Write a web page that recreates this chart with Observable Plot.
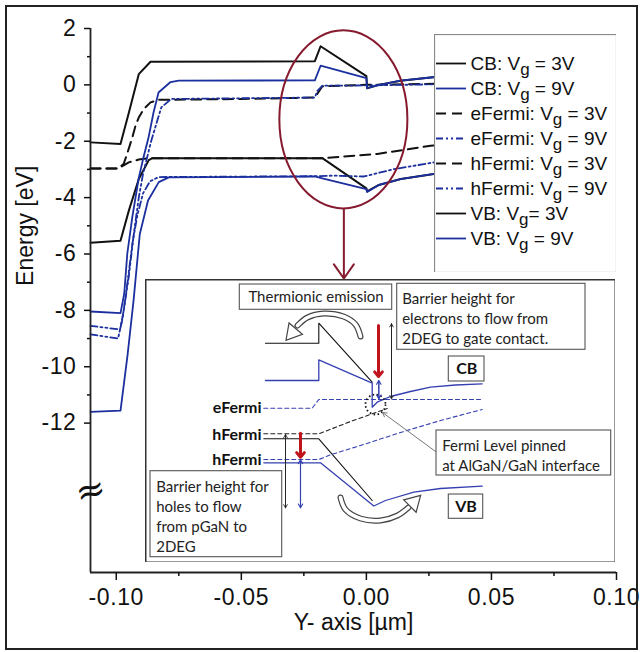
<!DOCTYPE html>
<html><head><meta charset="utf-8">
<script src="https://cdn.jsdelivr.net/npm/d3@7"></script>
<script src="https://cdn.jsdelivr.net/npm/@observablehq/plot@0.6"></script>
<style>
body{margin:0;background:#fff;}
#wrap{position:relative;width:643px;height:652px;overflow:hidden;background:#fff;}
#wrap svg{position:absolute;}
#border{position:absolute;left:5px;top:5px;width:629px;height:641px;border:2px solid #222;pointer-events:none;}
</style></head><body><div id="wrap"><div id="border"></div></div>
<script>
// ---------- DATA (x in µm, energy in eV) ----------
const legendLabels = ["CB: V_g = 3V","CB: V_g = 9V","eFermi: V_g = 3V","eFermi: V_g = 9V","hFermi: V_g = 3V","hFermi: V_g = 9V","VB: V_g= 3V","VB: V_g = 9V"];
const xMajorTicks = [-0.10,-0.05,0.00,0.05,0.10];
const xMinorTicks = [-0.075,-0.025,0.025,0.075];
const yMajorTicks = [2,0,-2,-4,-6,-8,-10,-12];
const yMinorTicks = [1,-1,-3,-5,-7,-9,-11];

const cb3V = [[-0.1103,-2.04],[-0.0983,-2.1],[-0.0950,-1.0],[-0.0910,0.38],[-0.0863,0.82],[-0.0206,0.84],[-0.0183,1.37],[0.0,0.31],[0.0003,-0.12],[0.005,0.0],[0.0137,0.15],[0.0275,0.28],[0.04,0.35]];
const cb9V = [[-0.1103,-8.04],[-0.0983,-8.1],[-0.0968,-7.4],[-0.0956,-6.0],[-0.0936,-4.7],[-0.0910,-3.3],[-0.0891,-2.57],[-0.0871,-1.87],[-0.0851,-0.98],[-0.0831,-0.27],[-0.0783,0.10],[-0.0750,0.15],[-0.0206,0.16],[-0.0183,0.68],[0.0,0.24],[0.0003,-0.12],[0.005,0.0],[0.0137,0.15],[0.0275,0.28],[0.04,0.35]];
const ef3V = [[-0.1103,-2.97],[-0.0993,-2.97],[-0.0970,-2.8],[-0.0955,-2.4],[-0.0936,-1.87],[-0.0923,-1.45],[-0.0910,-1.16],[-0.0890,-0.86],[-0.0863,-0.62],[-0.0830,-0.53],[-0.0500,-0.5],[-0.0206,-0.45],[-0.0176,-0.05],[0.0,0.0],[0.0275,0.04],[0.04,0.05]];
const ef9V = [[-0.1103,-8.55],[-0.0985,-8.68],[-0.0970,-8.0],[-0.0950,-6.8],[-0.0930,-5.3],[-0.0910,-4.0],[-0.0893,-3.16],[-0.0860,-1.98],[-0.0820,-0.8],[-0.0780,-0.5],[-0.0206,-0.45],[-0.0196,-0.21],[-0.0176,-0.03],[0.0,-0.02],[0.0275,0.02],[0.04,0.03]];
const hf3V = [[-0.1103,-2.97],[-0.0993,-2.97],[-0.0950,-2.75],[-0.0910,-2.65],[-0.0870,-2.6],[-0.0176,-2.6],[-0.0076,-2.53],[0.0044,-2.45],[0.0257,-2.16],[0.04,-2.0]];
const hf9V = [[-0.1103,-8.85],[-0.0993,-9.0],[-0.0975,-8.3],[-0.0955,-7.0],[-0.0935,-5.6],[-0.0915,-4.6],[-0.0893,-3.85],[-0.0865,-3.42],[-0.0830,-3.27],[-0.0206,-3.24],[-0.0130,-3.22],[-0.0010,-3.25],[0.0110,-2.99],[0.0270,-2.75],[0.04,-2.6]];
const vb3V = [[-0.1103,-5.6],[-0.0983,-5.53],[-0.0950,-4.47],[-0.0910,-3.34],[-0.0870,-2.67],[-0.0856,-2.6],[-0.0176,-2.6],[0.0,-3.67],[0.0003,-3.78],[0.005,-3.55],[0.0137,-3.34],[0.027,-3.16],[0.04,-3.05]];
const vb9V = [[-0.1103,-11.6],[-0.0983,-11.56],[-0.0955,-9.6],[-0.0931,-7.66],[-0.0906,-5.3],[-0.0873,-4.1],[-0.0830,-3.45],[-0.0790,-3.28],[-0.0206,-3.25],[-0.0176,-3.32],[0.0,-3.7],[0.0003,-3.8],[0.005,-3.55],[0.0137,-3.34],[0.027,-3.16],[0.04,-3.05]];

// zoom annotation (ellipse centre / radii in data units, arrow end)
const zoomCenter = [-0.009, -1.24];
const zoomRadii = [0.0256, 3.16];
const zoomArrow = [{x: -0.009, y1: -4.40, y2: -6.87}];
const breakMark = [{x: -0.1103, y: -14.4, t: "≈"}];

// ---------- INSET SCHEMATIC (schematic units) ----------
const insetBoxes = [[94.3,5,246.7,30.3],[251.7,4.3,440,70.3],[303.3,77,339,102],[291,151,465.7,196],[303.3,215,337.7,239.3],[5,191.7,136.7,277.7]];
const insetNotes = [
  {x:170.5,y:18,t:"Thermionic emission",a:"middle"},
  {x:256.7,y:37.7,t:"Barrier height for\nelectrons to flow from\n2DEG to gate contact.",a:"start"},
  {x:296.7,y:174.7,t:"Fermi Level pinned\nat AlGaN/GaN interface",a:"start"},
  {x:10.7,y:236,t:"Barrier height for\nholes to flow\nfrom pGaN to\n2DEG",a:"start"}
];
const insetBold = [
  {x:321.2,y:89.5,t:"CB",a:"middle"},{x:320.5,y:227,t:"VB",a:"middle"},
  {x:116,y:128.7,t:"eFermi",a:"end"},{x:116,y:155,t:"hFermi",a:"end"},{x:116,y:180.3,t:"hFermi",a:"end"}
];
const sCb3 = [[120,63.7],[173.3,63.7],[173.3,43.7],[226.7,102.7]];
const sCb9 = [[120,101],[173.3,101],[173.3,80.3],[226.7,103.7],[226.7,127.7],[231.7,122.7],[245,117],[265,112],[285,107.7],[310,105.5],[336.7,104.3]];
const sEf9 = [[118.3,128.7],[166.7,128.7],[173.3,120],[336.7,120]];
const sHf3 = [[118.3,154.3],[173.3,154.3],[205,142],[241.7,129]];
const sVb3 = [[118.3,159.3],[173.3,159.3],[226.7,221]];
const sHf9 = [[118.3,180],[173.3,180],[185,175.3],[215,166],[255,153],[295,141],[336.7,130]];
const sVb9 = [[118.3,183.3],[175,183.3],[228.3,226.5],[240,221],[268.3,212.7],[295,209],[336.7,206.7]];
const redArrows = [[233,46,97],[155,153.7,177.7]];
const blueDouble = [[233.3,101,119.3],[155,180.3,228.3]];
const blackDouble = [[246,44.3,119.3],[140,155,228.3]];
const pinArrow = [[291,172.7,237,133]];
const pinCircle = [[230,125]];
const topArc = [[215,57],[210,45],[198,37],[178,34],[162,38],[152,46]];
const topArcHead = [[147,53]];
const botArc = [[195,218],[200,230],[215,239],[235,241],[252,236],[263,228]];
const botArcHead = [[268,223]];

// ---------- STYLES ----------
const BLACK = "#111", BLUE = "#1b2f9e", MAROON = "#861a2e", RED = "#c0141c", IBLUE = "#3540b0";
const DASH = "10,6", DASHDOT = "7,3,2,3,2,3";
const series = [
  {d: cb3V, s: BLACK, dash: null, w: 2},
  {d: vb3V, s: BLACK, dash: null, w: 2},
  {d: ef3V, s: BLACK, dash: DASH, w: 2},
  {d: hf3V, s: BLACK, dash: DASH, w: 2},
  {d: ef9V, s: BLUE, dash: DASHDOT, w: 1.8},
  {d: hf9V, s: BLUE, dash: DASHDOT, w: 1.8},
  {d: cb9V, s: BLUE, dash: null, w: 1.8},
  {d: vb9V, s: BLUE, dash: null, w: 1.8}
];
const legendStyle = [
  {s: BLACK, dash: null},{s: BLUE, dash: null},{s: BLACK, dash: DASH},{s: BLUE, dash: DASHDOT},
  {s: BLACK, dash: DASH},{s: BLUE, dash: DASHDOT},{s: BLACK, dash: null},{s: BLUE, dash: null}
];
const X_MIN = -0.1103, X_MAX = 0.10, Y_MIN = -17.3, Y_MAX = 2;

const wrap = document.getElementById("wrap");
const border = document.getElementById("border");

// ---------- MAIN CHART ----------
const main = Plot.plot({
  width: 643, height: 652,
  marginLeft: 90, marginRight: 27, marginTop: 28, marginBottom: 80,
  x: {domain: [X_MIN, X_MAX]},
  y: {domain: [Y_MIN, Y_MAX]},
  style: {fontFamily: "'Liberation Sans', Arial, sans-serif", fontSize: "22px", background: "white", color: "#111"},
  marks: [
    ...series.map(o => Plot.line(o.d, {x: d => d[0], y: d => d[1], stroke: o.s, strokeWidth: o.w, strokeDasharray: o.dash})),
    Plot.ruleX([X_MIN], {stroke: "#222", strokeWidth: 1.8}),
    Plot.ruleY([Y_MIN], {stroke: "#222", strokeWidth: 1.8}),
    Plot.axisY(yMajorTicks, {tickSize: 6, tickPadding: 8, fontSize: 23, tickFormat: d => String(d), label: null, strokeWidth: 1.5}),
    Plot.axisY(yMinorTicks, {tickSize: 3, tickFormat: () => "", label: null, strokeWidth: 1.5}),
    Plot.axisX(xMajorTicks, {tickSize: 8, tickPadding: 8, fontSize: 23, tickFormat: d => d.toFixed(2), label: null, strokeWidth: 1.5}),
    Plot.axisX(xMinorTicks, {tickSize: 4, tickFormat: () => "", label: null, strokeWidth: 1.5}),
    Plot.text(breakMark, {x: "x", y: "y", text: "t", fontSize: 36, fontFamily: "'DejaVu Serif', serif", fill: "#111", rotate: -15}),
    Plot.text(["Energy [eV]"], {x: X_MIN, y: -5, rotate: -90, dx: -65, fontSize: 23}),
    Plot.text(["Y- axis [µm]"], {frameAnchor: "bottom", dy: 57, fontSize: 23}),
    Plot.arrow(zoomArrow, {x1: "x", x2: "x", y1: "y1", y2: "y2", stroke: MAROON, strokeWidth: 2, headLength: 13, headAngle: 70})
  ]
});
wrap.insertBefore(main, border);
d3.select(main).selectAll("g[aria-label='y-axis tick label'] text, g[aria-label='x-axis tick label'] text").style("letter-spacing", "0.6px");

// ellipse drawn through the chart's own scales
(function(){
  const sx = main.scale("x"), sy = main.scale("y");
  const fx = sx.apply ? (v => sx.apply(v)) : d3.scaleLinear(sx.domain, sx.range);
  const fy = sy.apply ? (v => sy.apply(v)) : d3.scaleLinear(sy.domain, sy.range);
  const cx = fx(zoomCenter[0]), cy = fy(zoomCenter[1]);
  const rx = Math.abs(fx(zoomCenter[0] + zoomRadii[0]) - cx);
  const ry = Math.abs(fy(zoomCenter[1] + zoomRadii[1]) - cy);
  d3.select(main).append("ellipse").attr("cx", cx).attr("cy", cy).attr("rx", rx).attr("ry", ry)
    .attr("fill", "none").attr("stroke", MAROON).attr("stroke-width", 2);
})();

// ---------- LEGEND ----------
const legend = Plot.plot({
  width: 182, height: 238, margin: 0,
  x: {domain: [0, 182], range: [0, 182], axis: null},
  y: {type: "point", domain: legendLabels, range: [14.3, 219.3], axis: null},
  style: {fontFamily: "'Liberation Sans', Arial, sans-serif", background: "white", color: "#111"},
  marks: [
    Plot.frame({stroke: "#888", strokeWidth: 1.2}),
    ...legendLabels.map((l, i) => Plot.ruleY([l], {x1: () => 2, x2: () => 32, y: d => d, stroke: legendStyle[i].s, strokeWidth: 1.8, strokeDasharray: legendStyle[i].dash})),
    Plot.text(legendLabels, {x: () => 36, y: d => d, text: d => d, textAnchor: "start", fontSize: 19, fill: "#111"})
  ]
});
legend.style.left = "434px"; legend.style.top = "34px";
wrap.insertBefore(legend, border);
d3.select(legend).selectAll("text").each(function(){
  const t = this.textContent;
  if (!t.includes("_g")) return;
  const [a, b] = t.split("_g");
  const s = d3.select(this);
  s.text(null);
  s.append("tspan").text(a);
  s.append("tspan").attr("dy", "5").style("font-size", "17px").text("g");
  s.append("tspan").attr("dy", "-5").text(b);
});

// ---------- INSET ----------
const P = d => d[0], Q = d => d[1];
const inset = Plot.plot({
  width: 470, height: 283, margin: 0,
  x: {domain: [0, 470], range: [0, 470], axis: null},
  y: {domain: [0, 283], range: [0, 283], axis: null},
  style: {fontFamily: "Lato, 'Open Sans', sans-serif", background: "white", color: "#222"},
  marks: [
    Plot.frame({stroke: "#333", strokeWidth: 2}),
    Plot.line(sCb3, {x: P, y: Q, stroke: BLACK, strokeWidth: 1.1}),
    Plot.line(sCb9, {x: P, y: Q, stroke: IBLUE, strokeWidth: 1.3}),
    Plot.line(sEf9, {x: P, y: Q, stroke: IBLUE, strokeWidth: 1.1, strokeDasharray: "4,3"}),
    Plot.line(sHf3, {x: P, y: Q, stroke: "#222", strokeWidth: 1.1, strokeDasharray: "4,3"}),
    Plot.line(sVb3, {x: P, y: Q, stroke: BLACK, strokeWidth: 1.1}),
    Plot.line(sHf9, {x: P, y: Q, stroke: IBLUE, strokeWidth: 1.1, strokeDasharray: "4,3"}),
    Plot.line(sVb9, {x: P, y: Q, stroke: IBLUE, strokeWidth: 1.3}),
    Plot.dot(pinCircle, {x: P, y: Q, r: 10, stroke: "#111", strokeWidth: 1.8, strokeDasharray: "1.5,2.5", fill: "none"}),
    Plot.arrow(pinArrow, {x1: d => d[0], y1: d => d[1], x2: d => d[2], y2: d => d[3], stroke: "#777", strokeWidth: 1, headLength: 7}),
    Plot.arrow(blackDouble, {x1: d => d[0], y1: d => d[1], x2: d => d[0], y2: d => d[2], stroke: "#222", strokeWidth: 0.9, headLength: 6}),
    Plot.arrow(blackDouble, {x1: d => d[0], y1: d => d[2], x2: d => d[0], y2: d => d[1], stroke: "#222", strokeWidth: 0.9, headLength: 6}),
    Plot.arrow(blueDouble, {x1: d => d[0], y1: d => d[1], x2: d => d[0], y2: d => d[2], stroke: IBLUE, strokeWidth: 1.1, headLength: 6}),
    Plot.arrow(blueDouble, {x1: d => d[0], y1: d => d[2], x2: d => d[0], y2: d => d[1], stroke: IBLUE, strokeWidth: 1.1, headLength: 6}),
    Plot.arrow(redArrows, {x1: d => d[0], y1: d => d[1], x2: d => d[0], y2: d => d[2], stroke: RED, strokeWidth: 3, headLength: 3, headAngle: 80}),
    Plot.line(topArc, {x: P, y: Q, curve: "catmull-rom", stroke: "#444", strokeWidth: 6, strokeLinecap: "round"}),
    Plot.line(topArc, {x: P, y: Q, curve: "catmull-rom", stroke: "white", strokeWidth: 3.6, strokeLinecap: "round"}),
    Plot.dot(topArcHead, {x: P, y: Q, symbol: "triangle", r: 6.5, rotate: 220, fill: "white", stroke: "#444", strokeWidth: 1.2}),
    Plot.line(botArc, {x: P, y: Q, curve: "catmull-rom", stroke: "#444", strokeWidth: 6, strokeLinecap: "round"}),
    Plot.line(botArc, {x: P, y: Q, curve: "catmull-rom", stroke: "white", strokeWidth: 3.6, strokeLinecap: "round"}),
    Plot.dot(botArcHead, {x: P, y: Q, symbol: "triangle", r: 6.5, rotate: 45, fill: "white", stroke: "#444", strokeWidth: 1.2}),
    Plot.rect(insetBoxes, {x1: d => d[0], y1: d => d[1], x2: d => d[2], y2: d => d[3], fill: "white", stroke: "#555", strokeWidth: 1.1}),
    Plot.text(insetNotes.filter(d => d.a === "middle"), {x: "x", y: "y", text: "t", textAnchor: "middle", fontSize: 15, fill: "#222"}),
    Plot.text(insetNotes.filter(d => d.a === "start"), {x: "x", y: "y", text: "t", textAnchor: "start", fontSize: 15, lineHeight: 1.33, fill: "#222"}),
    Plot.text(insetBold.filter(d => d.a === "middle"), {x: "x", y: "y", text: "t", textAnchor: "middle", fontSize: 16, fontWeight: "bold", fill: "#111"}),
    Plot.text(insetBold.filter(d => d.a === "end"), {x: "x", y: "y", text: "t", textAnchor: "end", fontSize: 16, fontWeight: "bold", fill: "#111"})
  ]
});
inset.style.left = "145px"; inset.style.top = "279px";
wrap.insertBefore(inset, border);
</script></body></html>
